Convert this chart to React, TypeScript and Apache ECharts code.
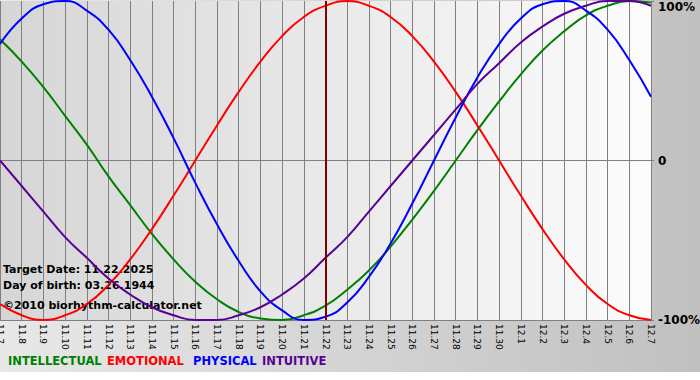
import React, { useEffect, useRef } from "react";
import * as echarts from "echarts";

const categories = [
  "11.7", "11.8", "11.9", "11.10", "11.11", "11.12", "11.13", "11.14", "11.15", "11.16",
  "11.17", "11.18", "11.19", "11.20", "11.21", "11.22", "11.23", "11.24", "11.25", "11.26",
  "11.27", "11.28", "11.29", "11.30", "12.1", "12.2", "12.3", "12.4", "12.5", "12.6", "12.7",
];

const physical = [73, 89, 98, 100, 94, 82, 63, 40, 14, -14, -40, -63, -82, -94, -100, -98, -89, -73, -52, -27, 0, 27, 52, 73, 89, 98, 100, 94, 82, 63, 40];
const emotional = [-90, -97, -100, -97, -90, -78, -62, -43, -22, 0, 22, 43, 62, 78, 90, 97, 100, 97, 90, 78, 62, 43, 22, 0, -22, -43, -62, -78, -90, -97, -100];
const intellectual = [76, 62, 46, 28, 10, -10, -28, -46, -62, -76, -87, -95, -99, -100, -97, -91, -81, -69, -54, -37, -19, 0, 19, 37, 54, 69, 81, 91, 97, 100, 99];
const intuitive = [0, -16, -32, -48, -61, -74, -84, -92, -97, -100, -100, -97, -92, -84, -74, -61, -48, -32, -16, 0, 16, 32, 48, 61, 74, 84, 92, 97, 100, 100, 97];

const targetDate = "11.22";

const legendItems = [
  { name: "INTELLECTUAL", color: "#008000", x: 8 },
  { name: "EMOTIONAL", color: "#ff0000", x: 107 },
  { name: "PHYSICAL", color: "#0000ff", x: 193 },
  { name: "INTUITIVE", color: "#5a0096", x: 262 },
];

const infoLines = [
  { text: "Target Date: 11.22.2025", y: 271 },
  { text: "Day of birth: 03.26.1944", y: 287 },
  { text: "©2010 biorhythm-calculator.net", y: 307 },
];

export default function App() {
  const ref = useRef<HTMLDivElement>(null);
  useEffect(() => {
    document.body.style.margin = "0";
    const chart = echarts.init(ref.current!, null, { renderer: "svg" });
    const mkSeries = (name: string, data: number[], color: string, extra: any = {}) => ({
      name,
      type: "line",
      data,
      smooth: 0.5,
      symbol: "none",
      lineStyle: { color, width: 2 },
      itemStyle: { color },
      z: 3,
      ...extra,
    });
    chart.setOption({
      animation: false,
      backgroundColor: new echarts.graphic.LinearGradient(0, 0, 1, 0, [
        { offset: 0, color: "#e8e8e8" },
        { offset: 1, color: "#c0c0c0" },
      ]),
      grid: {
        left: 0,
        top: 1,
        width: 651,
        bottom: 52,
        show: true,
        borderWidth: 0,
        containLabel: false,
        outerBoundsMode: "none",
        backgroundColor: new echarts.graphic.LinearGradient(0, 0, 1, 0, [
          { offset: 0, color: "#d6d6d6" },
          { offset: 1, color: "#fcfcfc" },
        ]),
      },
      xAxis: {
        type: "category",
        data: categories,
        boundaryGap: false,
        axisLine: { show: true, lineStyle: { color: "#808080", width: 1 } },
        axisTick: { show: true, length: 5, interval: 0, lineStyle: { color: "#808080" } },
        splitLine: { show: true, interval: 0, lineStyle: { color: "#808080", width: 1 } },
        axisLabel: {
          interval: 0,
          rotate: -90,
          margin: 4,
          color: "#000",
          fontSize: 9,
          fontFamily: "DejaVu Sans",
        },
      },
      yAxis: {
        type: "value",
        position: "right",
        min: -100,
        max: 100,
        interval: 100,
        axisLine: { show: false },
        axisTick: { show: true, length: 3, lineStyle: { color: "#808080" } },
        splitLine: {
          show: true,
          lineStyle: { color: ["#808080", "#808080", "transparent"], width: 1 },
        },
        axisLabel: {
          margin: 7,
          color: "#000",
          fontSize: 12,
          fontWeight: "bold",
          fontFamily: "DejaVu Sans",
          formatter: (v: number) =>
            v === 100 ? "{top|100%}" : v === 0 ? "0" : v + "%",
          rich: {
            top: {
              fontSize: 12,
              fontWeight: "bold",
              fontFamily: "DejaVu Sans",
              color: "#000",
              padding: [12, 0, 0, 0],
            },
          },
        },
      },
      series: [
        mkSeries("INTELLECTUAL", intellectual, "#008000"),
        mkSeries("EMOTIONAL", emotional, "#ff0000", {
          markLine: {
            silent: true,
            symbol: "none",
            label: { show: false },
            lineStyle: { color: "#800000", width: 2, type: "solid" },
            data: [{ xAxis: targetDate }],
          },
        }),
        mkSeries("PHYSICAL", physical, "#0000ff"),
        mkSeries("INTUITIVE", intuitive, "#5a0096"),
      ],
      graphic: [
        ...infoLines.map((l) => ({
          type: "text",
          left: 3,
          top: l.y - 7,
          z: 1,
          style: {
            text: l.text,
            fill: "#000",
            font: 'bold 11px "DejaVu Sans"',
          },
        })),
        ...legendItems.map((l) => ({
          type: "text",
          left: l.x,
          top: 355,
          z: 5,
          style: {
            text: l.name,
            fill: l.color,
            font: 'bold 11.5px "DejaVu Sans"',
          },
        })),
      ],
    });
    return () => chart.dispose();
  }, []);
  return <div ref={ref} style={{ width: 700, height: 372 }} />;
}
